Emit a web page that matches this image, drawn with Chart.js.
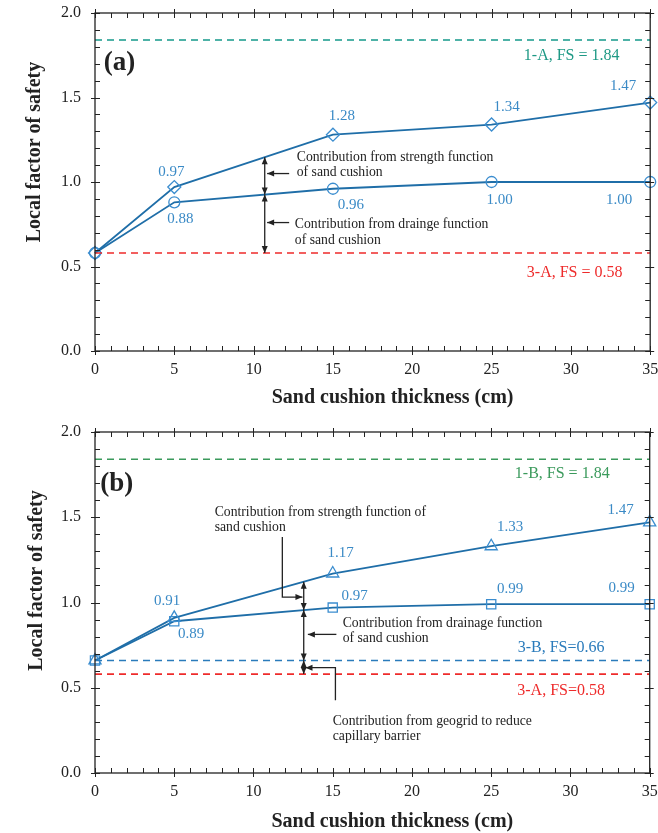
<!DOCTYPE html>
<html>
<head>
<meta charset="utf-8">
<script src="https://cdn.jsdelivr.net/npm/chart.js@4.4.0/dist/chart.umd.min.js"></script>
<style>
  html, body { margin: 0; padding: 0; background: #fff; }
  .panel { position: relative; width: 658px; }
  #wrapA { height: 416px; }
  #wrapB { height: 417px; }
</style>
</head>
<body>
<div class="panel" id="wrapA"><canvas id="chartA"></canvas></div>
<div class="panel" id="wrapB"><canvas id="chartB"></canvas></div>
<script>
// sand cushion thickness (cm)
const thickness = [0, 5, 15, 25, 35];
const xTicks = [0, 5, 10, 15, 20, 25, 30, 35];
const yTicks = [0.0, 0.5, 1.0, 1.5, 2.0];

// (a) sand cushion only
const strengthA = [0.58, 0.97, 1.28, 1.34, 1.47];
const drainA = [0.58, 0.88, 0.96, 1.00, 1.00];
const fs1A = 1.84;
const fs3A = 0.58;

// (b) sand cushion + geogrid
const strengthB = [0.66, 0.91, 1.17, 1.33, 1.47];
const drainB = [0.66, 0.89, 0.97, 0.99, 0.99];
const fs1B = 1.84;
const fs3B = 0.66;
const fs3AinB = 0.58;

const serif = "'Liberation Serif', 'Times New Roman', serif";
const lineBlue = '#1f6ea8';
const markBlue = '#3b8dcf';
const labelBlue = '#3a8ac6';
const ink = '#222';
const noteFont = '13.7px ' + serif;

Chart.defaults.font.family = serif;

// linear interpolation along a series (used to hit the lines with the arrows)
function interp(xs, ys, x) {
    for (let i = 0; i < xs.length - 1; i++) {
        if (x >= xs[i] && x <= xs[i + 1]) {
            return ys[i] + (ys[i + 1] - ys[i]) * (x - xs[i]) / (xs[i + 1] - xs[i]);
        }
    }
    return ys[ys.length - 1];
}

function arrowHead(ctx, x1, y1, x2, y2) {
    const a = Math.atan2(y2 - y1, x2 - x1), L = 7, W = 3;
    ctx.beginPath();
    ctx.moveTo(x2, y2);
    ctx.lineTo(x2 - L * Math.cos(a) + W * Math.sin(a), y2 - L * Math.sin(a) - W * Math.cos(a));
    ctx.lineTo(x2 - L * Math.cos(a) - W * Math.sin(a), y2 - L * Math.sin(a) + W * Math.cos(a));
    ctx.closePath();
    ctx.fill();
}

// box with ticks on all four sides: majors cross the frame, minors point inward
const framePlugin = {
    id: 'frame',
    afterDraw(chart) {
        const { ctx, chartArea: a, scales: { x, y } } = chart;
        ctx.save();
        ctx.strokeStyle = ink;
        ctx.lineWidth = 1.3;
        ctx.strokeRect(a.left, a.top, a.right - a.left, a.bottom - a.top);
        ctx.lineWidth = 1;
        ctx.beginPath();
        for (let v = 0; v <= 35; v++) {
            const px = Math.round(x.getPixelForValue(v)) + 0.5;
            const major = v % 5 === 0;
            ctx.moveTo(px, a.bottom + (major ? 4 : 0)); ctx.lineTo(px, a.bottom - 5);
            ctx.moveTo(px, a.top - (major ? 4 : 0)); ctx.lineTo(px, a.top + 5);
        }
        for (let i = 0; i <= 20; i++) {
            const py = Math.round(y.getPixelForValue(i / 10)) + 0.5;
            const major = i % 5 === 0;
            ctx.moveTo(a.left - (major ? 4 : 0), py); ctx.lineTo(a.left + 5, py);
            ctx.moveTo(a.right + (major ? 4 : 0), py); ctx.lineTo(a.right - 5, py);
        }
        ctx.stroke();
        ctx.restore();
    }
};

// value labels, text notes, arrows and axis titles
const notesPlugin = {
    id: 'notes',
    afterDatasetsDraw(chart, args, opts) {
        const { ctx, chartArea: a, scales: { x, y } } = chart;
        ctx.save();
        chart.data.datasets.forEach((ds, di) => {
            if (!ds.labelDx) return;
            const meta = chart.getDatasetMeta(di);
            ctx.fillStyle = labelBlue;
            ctx.font = '15px ' + serif;
            ctx.textAlign = 'center';
            ctx.textBaseline = 'middle';
            meta.data.forEach((pt, i) => {
                if (ds.labelDx[i] === null) return;
                ctx.fillText(ds.data[i].y.toFixed(2), pt.x + ds.labelDx[i], pt.y + ds.labelDy[i]);
            });
        });
        (opts.items || []).forEach(it => {
            if (it.text) {
                ctx.fillStyle = it.color || ink;
                ctx.font = it.font || noteFont;
                ctx.textAlign = it.align || 'left';
                ctx.textBaseline = 'middle';
                it.text.forEach((t, k) => {
                    ctx.fillText(t, x.getPixelForValue(it.x), y.getPixelForValue(it.y) + k * (it.lh || 15.5));
                });
            } else if (it.path) {
                const p = it.path.map(q => [x.getPixelForValue(q[0]), y.getPixelForValue(q[1])]);
                ctx.strokeStyle = ink;
                ctx.fillStyle = ink;
                ctx.lineWidth = 1.3;
                ctx.beginPath();
                ctx.moveTo(p[0][0], p[0][1]);
                for (let k = 1; k < p.length; k++) ctx.lineTo(p[k][0], p[k][1]);
                ctx.stroke();
                const n = p.length;
                arrowHead(ctx, p[n - 2][0], p[n - 2][1], p[n - 1][0], p[n - 1][1]);
                if (it.both) arrowHead(ctx, p[1][0], p[1][1], p[0][0], p[0][1]);
            }
        });
        // axis titles
        ctx.fillStyle = ink;
        ctx.font = 'bold 20px ' + serif;
        ctx.textAlign = 'center';
        ctx.textBaseline = 'middle';
        ctx.fillText('Sand cushion thickness (cm)', (a.left + a.right) / 2 + 20, a.bottom + opts.xTitleGap);
        ctx.translate(opts.yTitleX, (a.top + a.bottom) / 2 - opts.yTitleLift);
        ctx.rotate(-Math.PI / 2);
        ctx.fillText('Local factor of safety', 0, 0);
        ctx.restore();
    }
};

const markerSize = { circle: 5.5, rectRot: 6.5, triangle: 7, rect: 6.5 };

function seriesSet(values, style, dx, dy) {
    return {
        data: thickness.map((t, i) => ({ x: t, y: values[i] })),
        borderColor: lineBlue,
        borderWidth: 1.8,
        pointStyle: style,
        pointRadius: markerSize[style],
        pointBorderColor: markBlue,
        pointBackgroundColor: 'rgba(0,0,0,0)',
        pointBorderWidth: 1.3,
        tension: 0,
        clip: false,
        labelDx: dx,
        labelDy: dy
    };
}

function refSet(value, color) {
    return {
        data: [{ x: 0, y: value }, { x: 35, y: value }],
        borderColor: color,
        borderWidth: 1.6,
        borderDash: [7, 5],
        pointRadius: 0,
        clip: false
    };
}

function buildChart(id, cfg) {
    return new Chart(document.getElementById(id), {
        type: 'line',
        data: { datasets: cfg.datasets },
        options: {
            responsive: true,
            maintainAspectRatio: false,
            animation: false,
            events: [],
            layout: { padding: { top: cfg.padTop, right: cfg.padRight, bottom: 0, left: 0 } },
            plugins: {
                legend: { display: false },
                tooltip: { enabled: false },
                notes: cfg.notes
            },
            scales: {
                x: {
                    type: 'linear', min: 0, max: 35,
                    grid: { display: false, drawTicks: false },
                    border: { display: false },
                    afterBuildTicks: s => { s.ticks = xTicks.map(v => ({ value: v })); },
                    afterFit: s => { s.height = cfg.xAxisH; s.paddingLeft = 0; s.paddingRight = 0; },
                    ticks: { padding: 9, color: ink, font: { size: 16 }, maxRotation: 0, autoSkip: false }
                },
                y: {
                    type: 'linear', min: 0, max: 2,
                    grid: { display: false, drawTicks: false },
                    border: { display: false },
                    afterBuildTicks: s => { s.ticks = yTicks.map(v => ({ value: v })); },
                    afterFit: s => { s.width = cfg.yAxisW; s.paddingTop = 0; s.paddingBottom = 0; },
                    ticks: { padding: 14, color: ink, font: { size: 16 }, callback: v => v.toFixed(1) }
                }
            }
        },
        plugins: [framePlugin, notesPlugin]
    });
}

// ---- (a)
const xa = 10.7;
const topA = interp(thickness, strengthA, xa), midA = interp(thickness, drainA, xa);
buildChart('chartA', {
    padTop: 13, padRight: 6, xAxisH: 65, yAxisW: 95,
    datasets: [
        refSet(fs1A, '#15998a'),
        refSet(fs3A, '#ee2b2b'),
        seriesSet(strengthA, 'rectRot', [null, -3, 9, 15, -27], [null, -15, -19, -17, -17]),
        seriesSet(drainA, 'circle', [null, 6, 18, 8, -31], [null, 17, 16, 18, 18])
    ],
    notes: {
        xTitleGap: 47, yTitleX: 35, yTitleLift: 30,
        items: [
            { text: ['(a)'], x: 1.55, y: 1.706, font: 'bold 27px ' + serif, align: 'center' },
            { text: ['1-A, FS = 1.84'], x: 30.05, y: 1.748, color: '#1e9985', font: '16px ' + serif, align: 'center' },
            { text: ['3-A, FS = 0.58'], x: 30.24, y: 0.462, color: '#ee2b2b', font: '16px ' + serif, align: 'center' },
            { path: [[xa, topA], [xa, midA]], both: true },
            { path: [[xa, midA], [xa, fs3A]], both: true },
            { path: [[12.24, 1.05], [10.85, 1.05]] },
            { path: [[12.24, 0.76], [10.85, 0.76]] },
            { text: ['Contribution from strength function', 'of sand cushion'], x: 12.72, y: 1.148 },
            { text: ['Contribution from drainge function', 'of sand cushion'], x: 12.6, y: 0.748 }
        ]
    }
});

// ---- (b)
const xb = 13.17;
const topB = interp(thickness, strengthB, xb), midB = interp(thickness, drainB, xb);
buildChart('chartB', {
    padTop: 16, padRight: 7, xAxisH: 60, yAxisW: 95,
    datasets: [
        refSet(fs1B, '#3b9a5c'),
        refSet(fs3B, '#2a7bbb'),
        refSet(fs3AinB, '#ee2b2b'),
        seriesSet(strengthB, 'triangle', [null, -7, 8, 19, -29], [null, -17, -20, -19, -12]),
        seriesSet(drainB, 'rect', [null, 17, 22, 19, -28], [null, 13, -12, -15, -16])
    ],
    notes: {
        xTitleGap: 49, yTitleX: 37, yTitleLift: 22,
        items: [
            { text: ['(b)'], x: 1.37, y: 1.697, font: 'bold 27px ' + serif, align: 'center' },
            { text: ['1-B, FS = 1.84'], x: 29.48, y: 1.752, color: '#3b9a5c', font: '16px ' + serif, align: 'center' },
            { text: ['3-B, FS=0.66'], x: 29.41, y: 0.733, color: '#2a7bbb', font: '16px ' + serif, align: 'center' },
            { text: ['3-A, FS=0.58'], x: 29.41, y: 0.485, color: '#ee2b2b', font: '16px ' + serif, align: 'center' },
            { path: [[xb, topB], [xb, midB]], both: true },
            { path: [[xb, midB], [xb, fs3B]], both: true },
            { path: [[xb, fs3B], [xb, fs3AinB]], both: true },
            { path: [[11.82, 1.384], [11.82, 1.032], [13.09, 1.032]] },
            { path: [[15.23, 0.813], [13.43, 0.813]] },
            { path: [[15.17, 0.426], [15.17, 0.618], [13.28, 0.618]] },
            { text: ['Contribution from strength function of', 'sand cushion'], x: 7.55, y: 1.531 },
            { text: ['Contribution from drainage function', 'of sand cushion'], x: 15.63, y: 0.88 },
            { text: ['Contribution from geogrid to reduce', 'capillary barrier'], x: 15.0, y: 0.305 }
        ]
    }
});
</script>
</body>
</html>
